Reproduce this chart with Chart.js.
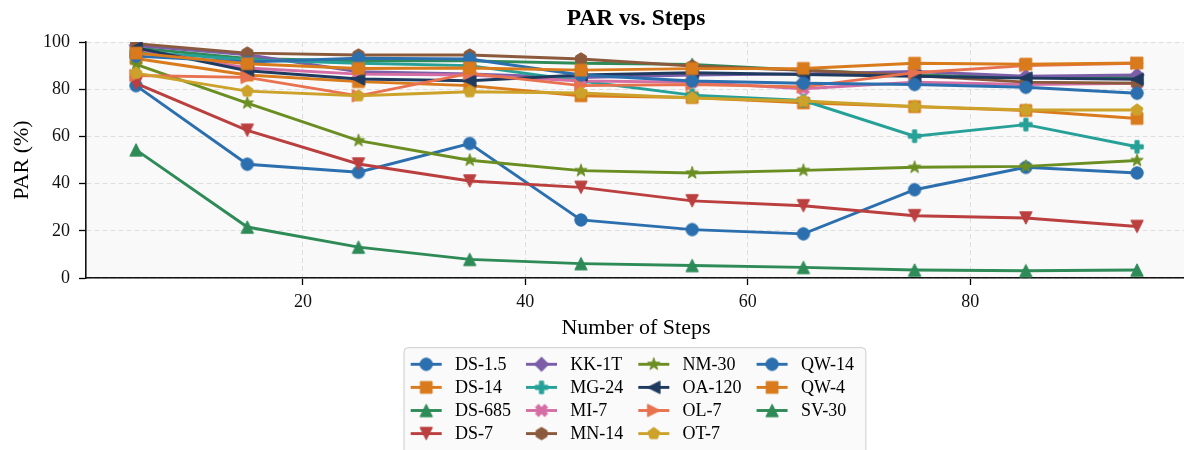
<!DOCTYPE html>
<html>
<head>
<meta charset="utf-8">
<script src="https://cdn.jsdelivr.net/npm/chart.js@4/dist/chart.umd.min.js"></script>
<style>
  html, body { margin: 0; padding: 0; background: #ffffff; overflow: hidden; }
  #wrap { width: 1184px; height: 450px; position: relative; overflow: hidden; }
</style>
</head>
<body>
<div id="wrap"><canvas id="chart" width="1196" height="450"></canvas></div>
<script>
// Number of steps on the x axis
const steps = [5, 15, 25, 35, 45, 55, 65, 75, 85, 95];

// PAR (%) per model
const parDS15  = [81.5, 48.2, 44.8, 57.0, 24.6, 20.5, 18.7, 37.4, 46.9, 44.5];
const parDS14  = [93.0, 86.0, 83.2, 81.5, 77.2, 76.5, 74.2, 72.6, 71.0, 67.6];
const parDS685 = [97.5, 93.0, 92.0, 92.0, 91.0, 90.5, 88.0, 86.0, 85.0, 85.0];
const parDS7   = [82.5, 62.6, 48.3, 41.1, 38.4, 32.7, 30.6, 26.4, 25.4, 21.8];
const parKK1T  = [98.5, 94.6, 87.4, 86.5, 84.9, 86.0, 86.5, 87.5, 85.5, 86.0];
const parMG24  = [96.0, 92.5, 91.0, 90.0, 83.5, 77.5, 75.2, 60.1, 65.0, 55.6];
const parMI7   = [97.0, 89.0, 86.4, 86.0, 83.5, 83.0, 80.2, 83.0, 82.0, 82.5];
const parMN14  = [99.3, 95.3, 94.5, 94.5, 92.8, 89.8, 88.0, 85.8, 83.0, 82.5];
const parNM30  = [90.5, 74.1, 58.2, 49.9, 45.5, 44.5, 45.6, 46.9, 47.3, 49.8];
const parOA120 = [97.5, 87.8, 84.3, 83.6, 86.0, 87.0, 86.2, 85.5, 84.7, 84.2];
const parOL7   = [85.8, 85.0, 77.2, 86.7, 81.5, 82.0, 81.0, 87.0, 90.0, 91.0];
const parOT7   = [86.8, 79.2, 77.2, 78.9, 78.4, 76.3, 75.0, 72.7, 71.2, 71.2];
const parQW14  = [94.0, 91.5, 93.1, 92.8, 86.0, 83.5, 82.5, 82.0, 80.8, 78.3];
const parQW4   = [95.3, 90.8, 88.8, 89.0, 88.1, 88.7, 88.8, 91.0, 90.6, 91.1];
const parSV30  = [54.3, 21.6, 13.1, 7.9, 6.1, 5.3, 4.5, 3.4, 3.1, 3.4];

const seriesNames = ['DS-1.5', 'DS-14', 'DS-685', 'DS-7', 'KK-1T', 'MG-24', 'MI-7',
                     'MN-14', 'NM-30', 'OA-120', 'OL-7', 'OT-7', 'QW-14', 'QW-4', 'SV-30'];
const seriesValues = [parDS15, parDS14, parDS685, parDS7, parKK1T, parMG24, parMI7,
                      parMN14, parNM30, parOA120, parOL7, parOT7, parQW14, parQW4, parSV30];

const xTicks = [20, 40, 60, 80];
const yTicks = [0, 20, 40, 60, 80, 100];

// 12-colour cycle and matching marker cycle
const palette = ['#2b6fae', '#d97a1c', '#2e8b57', '#bb3f3f', '#7b5ea7', '#27a197',
                 '#d46ea4', '#8b5a3c', '#6b8e23', '#1f3a5f', '#e8714f', '#cca22a'];
const markerCycle = ['circle', 'square', 'triangleUp', 'triangleDown', 'diamond', 'plusFilled',
                     'xFilled', 'hexagon', 'star', 'triangleLeft', 'triangleRight', 'pentagon'];

const FONT = '"Liberation Serif", "Times New Roman", serif';

// Filled marker sprites drawn once per series
function makeMarker(shape, color) {
  const S = 22;
  const c = document.createElement('canvas');
  c.width = S; c.height = S;
  const g = c.getContext('2d');
  g.translate(S / 2, S / 2);
  g.fillStyle = color;
  g.strokeStyle = color;
  g.lineWidth = 1;
  g.lineJoin = 'miter';
  const ms = 12.4;
  const r = ms / 2;
  const poly = pts => {
    pts.forEach(([x, y], i) => (i ? g.lineTo(x, y) : g.moveTo(x, y)));
    g.closePath();
  };
  const regular = (n, rad) => Array.from({ length: n }, (_, i) => {
    const a = -Math.PI / 2 + i * 2 * Math.PI / n;
    return [rad * Math.cos(a), rad * Math.sin(a)];
  });
  g.beginPath();
  switch (shape) {
    case 'circle': g.arc(0, 0, r, 0, Math.PI * 2); break;
    case 'square': g.rect(-r + 0.3, -r + 0.3, ms - 0.6, ms - 0.6); break;
    case 'triangleUp': poly([[0, -r], [r, r], [-r, r]]); break;
    case 'triangleDown': poly([[0, r], [r, -r], [-r, -r]]); break;
    case 'triangleLeft': poly([[-r, 0], [r, -r], [r, r]]); break;
    case 'triangleRight': poly([[r, 0], [-r, -r], [-r, r]]); break;
    case 'diamond': poly([[0, -7.2], [7.2, 0], [0, 7.2], [-7.2, 0]]); break;
    case 'hexagon': poly(regular(6, r)); break;
    case 'pentagon': poly(regular(5, r)); break;
    case 'star': {
      const pts = [];
      for (let i = 0; i < 10; i++) {
        const a = -Math.PI / 2 + i * Math.PI / 5;
        const rr = i % 2 ? r * 0.42 : r * 1.05;
        pts.push([rr * Math.cos(a), rr * Math.sin(a)]);
      }
      poly(pts);
      break;
    }
    case 'plusFilled': {
      const u = [[1, 0], [2, 0], [2, 1], [3, 1], [3, 2], [2, 2], [2, 3], [1, 3], [1, 2], [0, 2], [0, 1], [1, 1]];
      poly(u.map(([x, y]) => [(x / 3 - 0.5) * ms, (y / 3 - 0.5) * ms]));
      break;
    }
    case 'xFilled': {
      const u = [[0.25, 0], [0.5, 0.25], [0.25, 0.5], [0, 0.25], [-0.25, 0.5], [-0.5, 0.25],
                 [-0.25, 0], [-0.5, -0.25], [-0.25, -0.5], [0, -0.25], [0.25, -0.5], [0.5, -0.25]];
      poly(u.map(([x, y]) => [x * ms, y * ms]));
      break;
    }
  }
  g.fill();
  g.stroke();
  return c;
}

const markers = seriesNames.map((_, i) => makeMarker(markerCycle[i % 12], palette[i % 12]));

const datasets = seriesNames.map((name, i) => ({
  label: name,
  data: steps.map((s, k) => ({ x: s, y: seriesValues[i][k] })),
  borderColor: palette[i % 12],
  backgroundColor: palette[i % 12],
  borderWidth: 2.9,
  pointStyle: markers[i],
  pointRadius: 6,
  pointHoverRadius: 6,
  tension: 0,
  fill: false,
  order: seriesNames.length - i
}));

// Plot background, title, axis titles and the four-column legend
const decorations = {
  id: 'decorations',
  beforeDraw(chart) {
    const { ctx, chartArea: a } = chart;
    ctx.save();
    ctx.fillStyle = '#ffffff';
    ctx.fillRect(0, 0, chart.width, chart.height);
    ctx.fillStyle = '#f9f9f9';
    ctx.fillRect(a.left, a.top, a.right - a.left, a.bottom - a.top);
    ctx.restore();
  },
  afterDraw(chart) {
    const { ctx, chartArea: a } = chart;
    ctx.save();
    ctx.fillStyle = '#000000';
    ctx.textAlign = 'center';
    ctx.textBaseline = 'middle';
    const midX = 636;

    ctx.font = 'bold 23.5px ' + FONT;
    ctx.fillText('PAR vs. Steps', midX, 19);

    ctx.font = '22px ' + FONT;
    ctx.fillText('Number of Steps', midX, 328);

    ctx.save();
    ctx.translate(22, (a.top + a.bottom) / 2);
    ctx.rotate(-Math.PI / 2);
    ctx.fillText('PAR (%)', 0, 0);
    ctx.restore();

    // legend, filled column by column
    const rows = 4;
    const cols = Math.ceil(seriesNames.length / rows);
    ctx.font = '18px ' + FONT;
    const handleLen = 31;
    const textOffset = 44.3;
    const colGap = 15;
    const boxLeft = 404, boxTop = 347.7;
    const rowY0 = 364.3, rowStep = 23.1;
    const colX = [boxLeft + 6.7];
    const colWidths = [];
    for (let c = 0; c < cols; c++) {
      let w = 0;
      for (let r = 0; r < rows; r++) {
        const idx = c * rows + r;
        if (idx < seriesNames.length) w = Math.max(w, ctx.measureText(seriesNames[idx]).width);
      }
      colWidths.push(w);
      if (c < cols - 1) colX.push(colX[c] + textOffset + w + colGap);
    }
    const boxRight = colX[cols - 1] + textOffset + colWidths[cols - 1] + 12;

    ctx.beginPath();
    ctx.roundRect(boxLeft, boxTop, boxRight - boxLeft, 130, 4);
    ctx.fillStyle = 'rgba(249,249,249,0.85)';
    ctx.fill();
    ctx.strokeStyle = '#cccccc';
    ctx.lineWidth = 1;
    ctx.stroke();

    for (let i = 0; i < seriesNames.length; i++) {
      const c = Math.floor(i / rows), r = i % rows;
      const x = colX[c], y = rowY0 + r * rowStep;
      ctx.strokeStyle = palette[i % 12];
      ctx.lineWidth = 2.9;
      ctx.beginPath();
      ctx.moveTo(x, y);
      ctx.lineTo(x + handleLen, y);
      ctx.stroke();
      const m = markers[i];
      ctx.drawImage(m, x + handleLen / 2 - m.width / 2, y - m.height / 2);
      ctx.fillStyle = '#000000';
      ctx.textAlign = 'left';
      ctx.fillText(seriesNames[i], x + textOffset, y + 1);
    }
    ctx.restore();
  }
};

new Chart(document.getElementById('chart'), {
  type: 'line',
  data: { datasets },
  options: {
    responsive: false,
    animation: false,
    devicePixelRatio: 1,
    layout: { padding: { top: 42, right: 0, left: 0, bottom: 0 } },
    plugins: {
      legend: { display: false },
      title: { display: false },
      tooltip: { enabled: false }
    },
    scales: {
      x: {
        type: 'linear',
        min: 0.5,
        max: 99.5,
        afterBuildTicks: s => { s.ticks = xTicks.map(v => ({ value: v })); },
        afterFit: s => { s.height = 172; },
        grid: {
          color: '#dedede',
          lineWidth: 1,
          drawTicks: true,
          tickLength: 7,
          tickColor: '#000000',
          tickWidth: 1.3,
          tickBorderDash: []
        },
        border: { display: true, color: '#111111', width: 1.6, dash: [5, 3] },
        ticks: {
          color: '#111111',
          padding: 6,
          maxRotation: 0,
          font: { family: FONT, size: 18 }
        }
      },
      y: {
        min: 0,
        max: 100,
        afterBuildTicks: s => { s.ticks = yTicks.map(v => ({ value: v })); },
        afterFit: s => { s.width = 86; },
        grid: {
          color: '#dedede',
          lineWidth: 1,
          drawTicks: true,
          tickLength: 7,
          tickColor: '#000000',
          tickWidth: 1.3,
          tickBorderDash: []
        },
        border: { display: true, color: '#111111', width: 1.6, dash: [5, 3] },
        ticks: {
          color: '#111111',
          padding: 9,
          font: { family: FONT, size: 18 }
        }
      }
    }
  },
  plugins: [decorations]
});
</script>
</body>
</html>
